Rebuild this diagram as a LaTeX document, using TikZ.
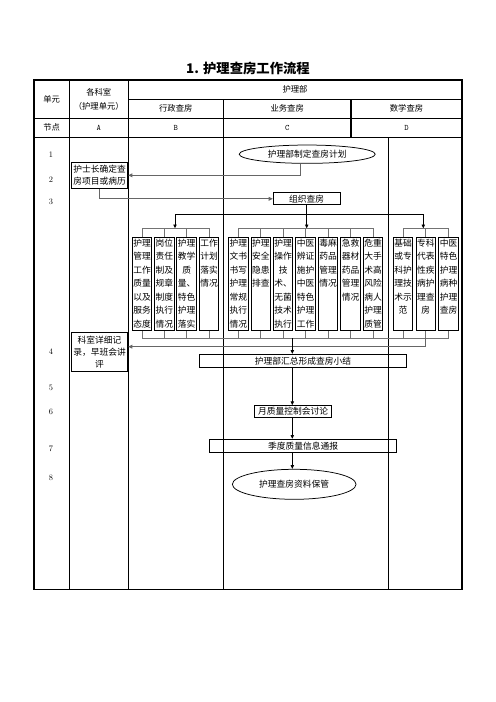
\documentclass[tikz,border=0pt]{standalone}
\usepackage{fontspec}
\newfontfamily\cjk{Noto Sans CJK SC}
\usetikzlibrary{shapes.geometric,arrows.meta}

% text of the tall narrow boxes, set from the top
\newcommand{\coltext}[1]{\parbox[c][111pt][t]{23.4pt}{\centering\vspace*{1.5pt}#1}}

\begin{document}
\begin{tikzpicture}[x=1.2pt,y=-1.2pt,
    rule/.style={line width=1.3pt},
    txt/.style={font=\cjk\fontsize{10.5pt}{14.6pt}\selectfont, inner sep=0pt, align=center},
    headtxt/.style={font=\cjk\fontsize{10pt}{17pt}\selectfont, inner sep=0pt, align=center},
    num/.style={font=\fontsize{10pt}{12pt}\selectfont, inner sep=0pt},
    stepbox/.style={txt, draw, line width=1.2pt},
    oval/.style={txt, draw, ellipse, line width=0.9pt},
    colbox/.style={draw, line width=1.2pt, inner sep=0pt, anchor=north,
                   font=\cjk\fontsize{10.5pt}{16.2pt}\selectfont},
    flow/.style={line width=0.9pt, -{Triangle[length=4.5pt,width=4pt]}},
    back/.style={line width=1.6pt, draw=black!60, -{Triangle[length=5pt,width=4.5pt]}},
    comb/.style={line width=0.8pt, draw=black!55}]

    \useasboundingbox (0,0) rectangle (496,702);

    % title
    \node[font=\cjk\bfseries\fontsize{16pt}{18pt}\selectfont] (title) at (248,68) {1. 护理查房工作流程};

    % table frame
    \draw[rule] (34,80) rectangle (462,589.3);
    \draw[rule] (128.3,99.3) -- (462,99.3);
    \draw[rule] (34,118.3) -- (462,118.3);
    \draw[rule] (34,137.3) -- (462,137.3);
    \draw[rule] (69.3,80) -- (69.3,589.3);
    \draw[rule] (128.3,80) -- (128.3,589.3);
    \draw[rule] (223.3,99.3) -- (223.3,589.3);
    \draw[rule] (351,99.3) -- (351,137.3);
    \draw[rule] (388.3,137.3) -- (388.3,589.3);

    % header cells
    \node[headtxt] (unit) at (51.7,99) {单元};
    \node[headtxt] (dept-h) at (98.8,99) {各科室\\（护理单元）};
    \node[headtxt] (nd-h) at (295,89.7) {护理部};
    \node[headtxt] (admin-h) at (175.8,108.8) {行政查房};
    \node[headtxt] (work-h) at (287.2,108.8) {业务查房};
    \node[headtxt] (teach-h) at (406.5,108.8) {数学查房};
    \node[headtxt] (node-h) at (51.7,127.8) {节点};
    \node[num, font=\ttfamily] (colA) at (98.8,127.8) {A};
    \node[num, font=\ttfamily] (colB) at (175.8,127.8) {B};
    \node[num, font=\ttfamily] (colC) at (287.2,127.8) {C};
    \node[num, font=\ttfamily] (colD) at (406.5,127.8) {D};

    % step numbers
    \node[num] (n1) at (51,155) {1};
    \node[num] (n2) at (51,179.3) {2};
    \node[num] (n3) at (51,201.7) {3};
    \node[num] (n4) at (51,351.7) {4};
    \node[num] (n5) at (51,388.3) {5};
    \node[num] (n6) at (51,411.7) {6};
    \node[num] (n7) at (51,448.3) {7};
    \node[num] (n8) at (51,478.3) {8};

    % flow steps
    \node[oval, minimum width=163.2pt, minimum height=22pt] (plan) at (307.2,154.2) {护理部制定查房计划};
    \node[stepbox, minimum width=67.7pt, minimum height=31.2pt] (lead) at (99.5,175.3) {护士长确定查\\房项目或病历};
    \node[stepbox, minimum width=80pt, minimum height=14.8pt] (org) at (306.7,198.8) {组织查房};
    \node[stepbox, minimum width=67.7pt, minimum height=47.3pt] (record) at (99.5,352) {科室详细记\\录，早班会讲\\评};
    \node[stepbox, minimum width=248.9pt, minimum height=15.2pt] (sum) at (303,360.7) {护理部汇总形成查房小结};
    \node[stepbox, minimum width=92.9pt, minimum height=13.9pt] (month) at (293,411.5) {月质量控制会讨论};
    \node[stepbox, minimum width=224.9pt, minimum height=15.6pt] (quarter) at (303,445.8) {季度质量信息通报};
    \node[oval, minimum width=148.4pt, minimum height=36pt] (archive) at (294.2,484.3) {护理查房资料保管};

    % B: administrative rounds
    \node[colbox] (b1) at (142,237.3) {\coltext{护理\\管理\\工作\\质量\\以及\\服务\\态度}};
    \node[colbox] (b2) at (164.3,237.3) {\coltext{岗位\\责任\\制及\\规章\\制度\\执行\\情况}};
    \node[colbox] (b3) at (186.7,237.3) {\coltext{护理\\教学\\质\\量、\\特色\\护理\\落实}};
    \node[colbox] (b4) at (209,237.3) {\coltext{工作\\计划\\落实\\情况}};
    % C: professional rounds
    \node[colbox] (c1) at (238.3,237.3) {\coltext{护理\\文书\\书写\\护理\\常规\\执行\\情况}};
    \node[colbox] (c2) at (260.75,237.3) {\coltext{护理\\安全\\隐患\\排查}};
    \node[colbox] (c3) at (283.2,237.3) {\coltext{护理\\操作\\技\\术、\\无菌\\技术\\执行}};
    \node[colbox] (c4) at (305.65,237.3) {\coltext{中医\\辨证\\施护\\中医\\特色\\护理\\工作}};
    \node[colbox] (c5) at (328.1,237.3) {\coltext{毒麻\\药品\\管理\\情况}};
    \node[colbox] (c6) at (350.55,237.3) {\coltext{急救\\器材\\药品\\管理\\情况}};
    \node[colbox] (c7) at (373,237.3) {\coltext{危重\\大手\\术高\\风险\\病人\\护理\\质管}};
    % D: teaching rounds
    \node[colbox] (d1) at (403,237.3) {\coltext{基础\\或专\\科护\\理技\\术示\\范}};
    \node[colbox] (d2) at (425.8,237.3) {\coltext{专科\\代表\\性疾\\病护\\理查\\房}};
    \node[colbox] (d3) at (448.6,237.3) {\coltext{中医\\特色\\护理\\病种\\护理\\查房}};

    % connectors
    \coordinate (k1) at (300.7,175.3);
    \draw[back] (plan.south -| k1) -- (k1) -- (k1 -| lead.east);
    \draw[back] (lead.south) |- (org.west);

    \coordinate (tb) at (306.7,228.3);
    \coordinate (sl) at (175,214.3);
    \coordinate (sr) at (423.3,214.3);
    \draw[flow] (org.south) -- (tb);
    \draw[line width=0.9pt] (sl) -- (sr);
    \draw[flow] (sl) -- (sl |- tb);
    \draw[flow] (sr) -- (sr |- tb);

    % combs above the boxes
    \draw[comb] (b1.north |- tb) -- (b4.north |- tb);
    \draw[comb] (c1.north |- tb) -- (c7.north |- tb);
    \draw[comb] (d1.north |- tb) -- (d3.north |- tb);
    \foreach \n in {b1,b2,b3,b4,c1,c2,c3,c4,c5,c6,c7,d1,d2,d3}
        \draw[comb] (\n.north |- tb) -- (\n.north);

    % comb below the boxes
    \coordinate (bb) at (292.3,338.3);
    \draw[comb] (b1.south |- bb) -- (d3.south |- bb);
    \foreach \n in {b1,b2,b3,b4,c1,c2,c3,c4,c5,c6,c7,d1,d2,d3}
        \draw[comb] (\n.south) -- (\n.south |- bb);

    \coordinate (ret) at (425.8,346.7);
    \draw[back] (d2.south |- bb) -- (ret) -- (ret -| record.east);

    % main line down
    \draw[flow] (bb) -- (bb |- sum.north);
    \draw[flow] (sum.south -| bb) -- (month.north -| bb);
    \draw[flow] (month.south -| bb) -- (quarter.north -| bb);
    \draw[flow] (quarter.south -| bb) -- (archive.north -| bb);

\end{tikzpicture}
\end{document}
